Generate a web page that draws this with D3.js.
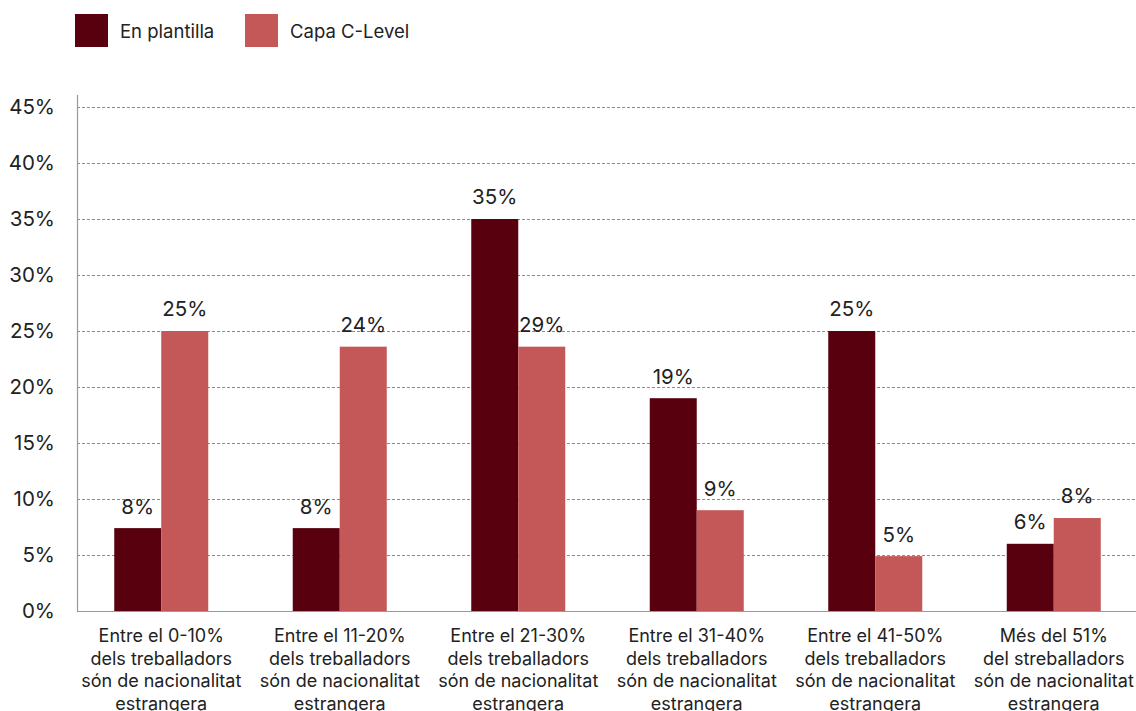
<!DOCTYPE html>
<html>
<head>
<meta charset="utf-8">
<script src="https://cdn.jsdelivr.net/npm/d3@7"></script>
<style>
  body { margin: 0; background: #fff; }
  svg { font-family: Inter, "Noto Sans", sans-serif; }
</style>
</head>
<body>
<svg id="chart" width="1136" height="711"></svg>
<script>
// categories (multi-line labels)
var categories = [
  ['Entre el 0-10%', 'dels treballadors', 'són de nacionalitat', 'estrangera'],
  ['Entre el 11-20%', 'dels treballadors', 'són de nacionalitat', 'estrangera'],
  ['Entre el 21-30%', 'dels treballadors', 'són de nacionalitat', 'estrangera'],
  ['Entre el 31-40%', 'dels treballadors', 'són de nacionalitat', 'estrangera'],
  ['Entre el 41-50%', 'dels treballadors', 'són de nacionalitat', 'estrangera'],
  ['Més del 51%', 'del streballadors', 'són de nacionalitat', 'estrangera']
];
var seriesNames = ['En plantilla', 'Capa C-Level'];
var colors = ['#58000d', '#c45858'];

// bar heights as drawn
var plantilla = [7.4, 7.4, 35, 19, 25, 6];
var cLevel = [25, 23.6, 23.6, 9, 4.9, 8.3];
// value labels as printed
var plantillaLabels = ['8%', '8%', '35%', '19%', '25%', '6%'];
var cLevelLabels = ['25%', '24%', '29%', '9%', '5%', '8%'];

var yTicks = [0, 5, 10, 15, 20, 25, 30, 35, 40, 45];

var svg = d3.select('#chart');
var axisX = 77;
var plotRight = 1136;

var x0 = d3.scaleBand()
  .domain(d3.range(categories.length))
  .range([72, 1143]);
var barW = 47;
function barX(i, s) {
  var c = x0(i) + x0.bandwidth() / 2;
  return c - barW + s * barW;
}

var y = d3.scaleLinear().domain([0, 45]).range([611, 107]);

// gridlines
svg.append('g')
  .selectAll('line')
  .data(yTicks.filter(function(d) { return d > 0; }))
  .enter()
  .append('line')
  .attr('x1', axisX)
  .attr('x2', plotRight)
  .attr('y1', function(d) { return y(d) + 0.5; })
  .attr('y2', function(d) { return y(d) + 0.5; })
  .style('stroke', '#8a8a8a')
  .style('stroke-width', 1)
  .style('stroke-dasharray', '3,2');

// y tick labels
svg.append('g')
  .selectAll('text')
  .data(yTicks)
  .enter()
  .append('text')
  .attr('x', 55)
  .attr('y', function(d) { return y(d); })
  .attr('dy', '0.36em')
  .attr('text-anchor', 'end')
  .style('font-size', '20.5px')
  .style('fill', '#222')
  .text(function(d) { return d + '%'; });

// bars
var series = [plantilla, cLevel];
var labels = [plantillaLabels, cLevelLabels];
series.forEach(function(vals, s) {
  svg.append('g')
    .selectAll('rect')
    .data(vals)
    .enter()
    .append('rect')
    .attr('x', function(d, i) { return barX(i, s); })
    .attr('width', barW)
    .attr('y', function(d) { return y(d); })
    .attr('height', function(d) { return y(0) - y(d); })
    .style('fill', colors[s]);

  svg.append('g')
    .selectAll('text')
    .data(vals)
    .enter()
    .append('text')
    .attr('x', function(d, i) { return barX(i, s) + barW / 2; })
    .attr('y', function(d) { return y(d) - 22; })
    .attr('dy', '0.36em')
    .attr('text-anchor', 'middle')
    .style('font-size', '20.5px')
    .style('fill', '#222')
    .text(function(d, i) { return labels[s][i]; });
});

// axes lines
svg.append('line')
  .attr('x1', axisX + 0.5).attr('x2', axisX + 0.5)
  .attr('y1', 95).attr('y2', 612)
  .style('stroke', '#999').style('stroke-width', 1.2);
svg.append('line')
  .attr('x1', axisX).attr('x2', plotRight)
  .attr('y1', 611.5).attr('y2', 611.5)
  .style('stroke', '#999').style('stroke-width', 1.2);

// category labels
var cat = svg.append('g')
  .selectAll('text')
  .data(categories)
  .enter()
  .append('text')
  .attr('text-anchor', 'middle')
  .style('font-size', '18px')
  .style('fill', '#222');
cat.selectAll('tspan')
  .data(function(d, i) { return d.map(function(t) { return { t: t, i: i }; }); })
  .enter()
  .append('tspan')
  .attr('x', function(d) { return x0(d.i) + x0.bandwidth() / 2; })
  .attr('y', function(d, j) { return 636 + j * 22.5; })
  .attr('dy', '0.36em')
  .text(function(d) { return d.t; });

// legend
var legX = [75, 245];
seriesNames.forEach(function(name, s) {
  svg.append('rect')
    .attr('x', legX[s]).attr('y', 14)
    .attr('width', 33).attr('height', 33)
    .style('fill', colors[s]);
  svg.append('text')
    .attr('x', legX[s] + 45).attr('y', 31)
    .attr('dy', '0.36em')
    .style('font-size', '18.5px')
    .style('fill', '#222')
    .text(name);
});
</script>
</body>
</html>
